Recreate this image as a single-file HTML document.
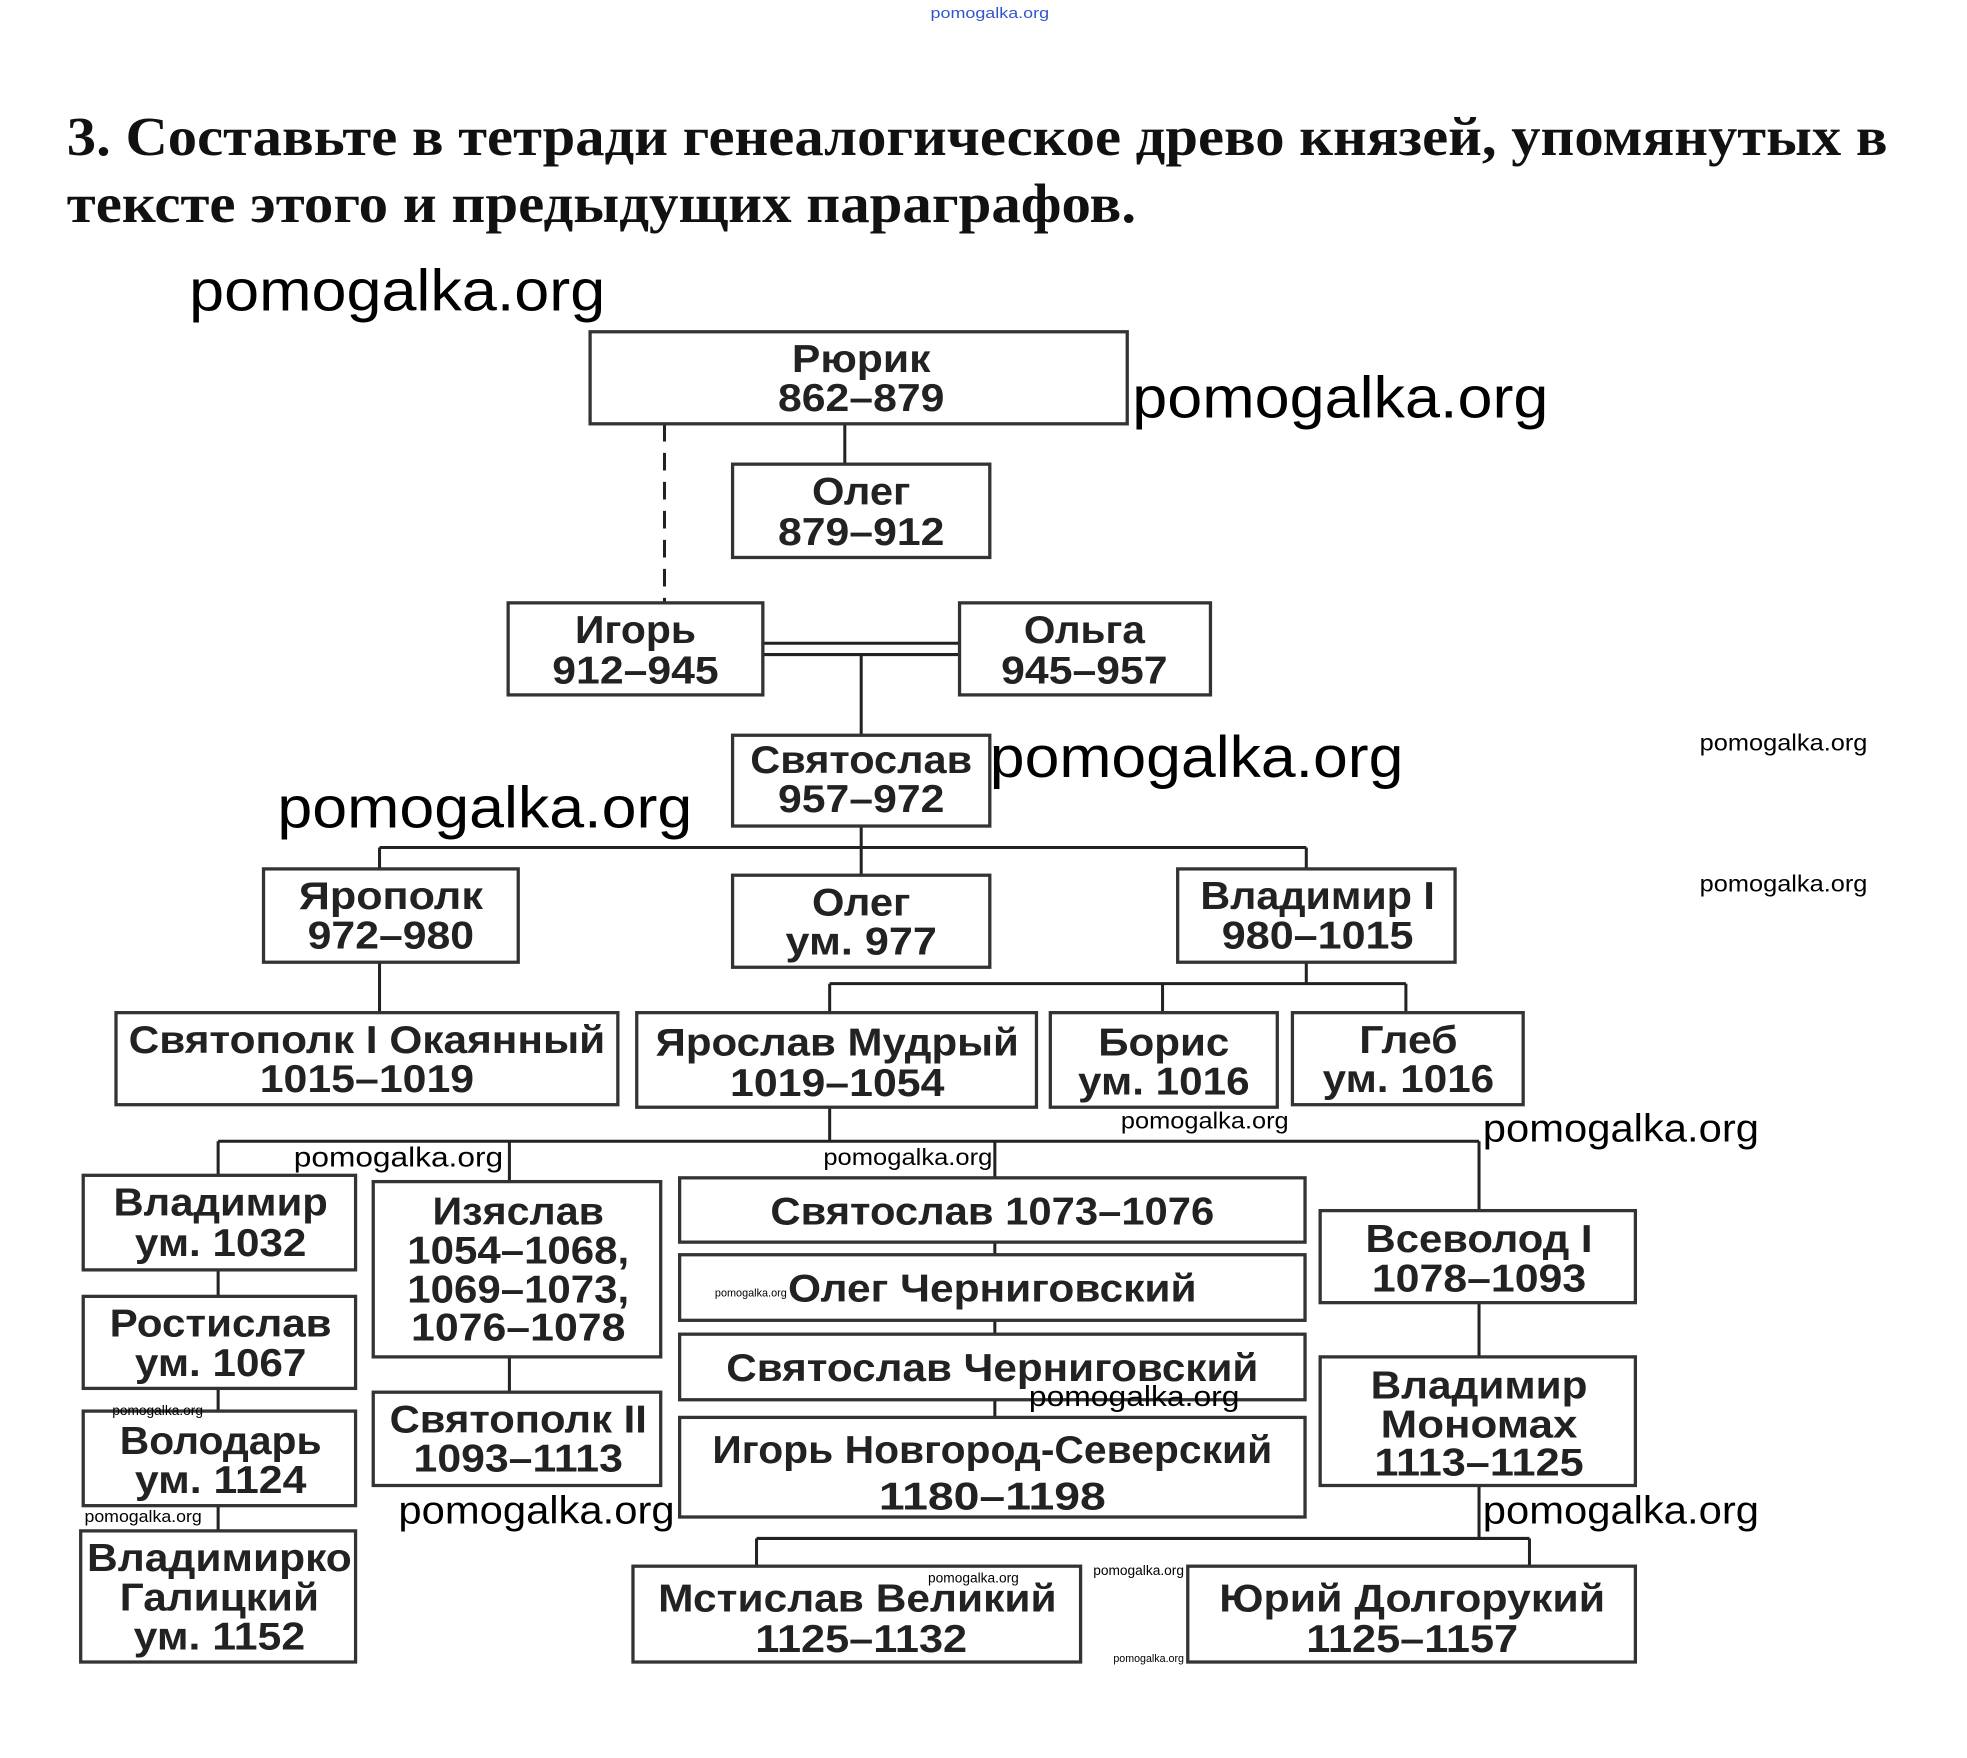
<!DOCTYPE html>
<html><head><meta charset="utf-8"><style>
html,body{margin:0;padding:0;background:#fff;width:1967px;height:1758px;overflow:hidden}
svg{display:block}
.b{fill:#fff;stroke:#333;stroke-width:2.6}
.l{stroke:#222;stroke-width:2.4;fill:none}
.t{font-family:"Liberation Sans",sans-serif;font-weight:bold;font-size:31px;fill:#222;text-anchor:middle}
.w{font-family:"Liberation Sans",sans-serif;fill:#000}
.h{font-family:"Liberation Serif",serif;font-weight:bold;font-size:44px;fill:#111}
</style></head><body>
<svg width="1967" height="1758" viewBox="0 0 1560 1394" xmlns="http://www.w3.org/2000/svg">
<text x="738" y="14" class="w" font-size="12" fill="#3355cc" style="fill:#3355cc" textLength="94" lengthAdjust="spacingAndGlyphs">pomogalka.org</text>
<text x="53" y="123" class="h" textLength="1444" lengthAdjust="spacingAndGlyphs">3. Составьте в тетради генеалогическое древо князей, упомянутых в</text>
<text x="53" y="176" class="h" textLength="848" lengthAdjust="spacingAndGlyphs">тексте этого и предыдущих параграфов.</text>

<!-- connectors -->
<line class="l" x1="670" y1="336" x2="670" y2="368"/>
<line class="l" x1="527" y1="336" x2="527" y2="478" stroke-dasharray="14,9"/>
<line class="l" x1="605" y1="510" x2="761" y2="510"/>
<line class="l" x1="605" y1="519" x2="761" y2="519"/>
<line class="l" x1="683" y1="519" x2="683" y2="583"/>
<line class="l" x1="683" y1="655" x2="683" y2="694"/>
<line class="l" x1="301" y1="672" x2="1036" y2="672"/>
<line class="l" x1="301" y1="672" x2="301" y2="803"/>
<line class="l" x1="1036" y1="672" x2="1036" y2="780"/>
<line class="l" x1="658" y1="780" x2="1115" y2="780"/>
<line class="l" x1="658" y1="780" x2="658" y2="803"/>
<line class="l" x1="922" y1="780" x2="922" y2="803"/>
<line class="l" x1="1115" y1="780" x2="1115" y2="803"/>
<line class="l" x1="658" y1="878" x2="658" y2="905"/>
<line class="l" x1="173" y1="905" x2="1173" y2="905"/>
<line class="l" x1="173" y1="905" x2="173" y2="1214"/>
<line class="l" x1="404" y1="905" x2="404" y2="1104"/>
<line class="l" x1="789" y1="905" x2="789" y2="1124"/>
<line class="l" x1="1173" y1="905" x2="1173" y2="1220"/>
<line class="l" x1="600" y1="1220" x2="1213" y2="1220"/>
<line class="l" x1="600" y1="1220" x2="600" y2="1242"/>
<line class="l" x1="1213" y1="1220" x2="1213" y2="1242"/>

<!-- boxes -->
<rect class="b" x="468" y="263" width="426" height="73"/>
<rect class="b" x="581" y="368" width="204" height="74"/>
<rect class="b" x="403" y="478" width="202" height="73"/>
<rect class="b" x="761" y="478" width="199" height="73"/>
<rect class="b" x="581" y="583" width="204" height="72"/>
<rect class="b" x="209" y="689" width="202" height="74"/>
<rect class="b" x="581" y="694" width="204" height="73"/>
<rect class="b" x="934" y="689" width="220" height="74"/>
<rect class="b" x="92" y="803" width="398" height="73"/>
<rect class="b" x="505" y="803" width="317" height="75"/>
<rect class="b" x="833" y="803" width="180" height="75"/>
<rect class="b" x="1025" y="803" width="183" height="73"/>
<rect class="b" x="66" y="932" width="216" height="75"/>
<rect class="b" x="66" y="1028" width="216" height="73"/>
<rect class="b" x="66" y="1119" width="216" height="75"/>
<rect class="b" x="64" y="1214" width="218" height="104"/>
<rect class="b" x="296" y="937" width="228" height="139"/>
<rect class="b" x="296" y="1104" width="228" height="74"/>
<rect class="b" x="539" y="934" width="496" height="51"/>
<rect class="b" x="539" y="995" width="496" height="52"/>
<rect class="b" x="539" y="1058" width="496" height="52"/>
<rect class="b" x="539" y="1124" width="496" height="79"/>
<rect class="b" x="1047" y="960" width="250" height="73"/>
<rect class="b" x="1047" y="1076" width="250" height="102"/>
<rect class="b" x="502" y="1242" width="355" height="76"/>
<rect class="b" x="942" y="1242" width="355" height="76"/>

<!-- labels -->
<g class="t">
<text x="683" y="295" textLength="110" lengthAdjust="spacingAndGlyphs">Рюрик</text>
<text x="683" y="326" textLength="132" lengthAdjust="spacingAndGlyphs">862–879</text>
<text x="683" y="400" textLength="78" lengthAdjust="spacingAndGlyphs">Олег</text>
<text x="683" y="432" textLength="132" lengthAdjust="spacingAndGlyphs">879–912</text>
<text x="504" y="510" textLength="96" lengthAdjust="spacingAndGlyphs">Игорь</text>
<text x="504" y="542" textLength="132" lengthAdjust="spacingAndGlyphs">912–945</text>
<text x="860" y="510" textLength="96" lengthAdjust="spacingAndGlyphs">Ольга</text>
<text x="860" y="542" textLength="132" lengthAdjust="spacingAndGlyphs">945–957</text>
<text x="683" y="613" textLength="176" lengthAdjust="spacingAndGlyphs">Святослав</text>
<text x="683" y="644" textLength="132" lengthAdjust="spacingAndGlyphs">957–972</text>
<text x="310" y="721" textLength="146" lengthAdjust="spacingAndGlyphs">Ярополк</text>
<text x="310" y="752" textLength="132" lengthAdjust="spacingAndGlyphs">972–980</text>
<text x="683" y="726" textLength="78" lengthAdjust="spacingAndGlyphs">Олег</text>
<text x="683" y="757" textLength="120" lengthAdjust="spacingAndGlyphs">ум. 977</text>
<text x="1045" y="721" textLength="186" lengthAdjust="spacingAndGlyphs">Владимир I</text>
<text x="1045" y="752" textLength="152" lengthAdjust="spacingAndGlyphs">980–1015</text>
<text x="291" y="835" textLength="378" lengthAdjust="spacingAndGlyphs">Святополк I Окаянный</text>
<text x="291" y="866" textLength="170" lengthAdjust="spacingAndGlyphs">1015–1019</text>
<text x="664" y="837" textLength="288" lengthAdjust="spacingAndGlyphs">Ярослав Мудрый</text>
<text x="664" y="869" textLength="170" lengthAdjust="spacingAndGlyphs">1019–1054</text>
<text x="923" y="837" textLength="104" lengthAdjust="spacingAndGlyphs">Борис</text>
<text x="923" y="868" textLength="136" lengthAdjust="spacingAndGlyphs">ум. 1016</text>
<text x="1117" y="835" textLength="78" lengthAdjust="spacingAndGlyphs">Глеб</text>
<text x="1117" y="866" textLength="136" lengthAdjust="spacingAndGlyphs">ум. 1016</text>
<text x="175" y="964" textLength="170" lengthAdjust="spacingAndGlyphs">Владимир</text>
<text x="175" y="996" textLength="136" lengthAdjust="spacingAndGlyphs">ум. 1032</text>
<text x="175" y="1060" textLength="176" lengthAdjust="spacingAndGlyphs">Ростислав</text>
<text x="175" y="1091" textLength="136" lengthAdjust="spacingAndGlyphs">ум. 1067</text>
<text x="175" y="1153" textLength="160" lengthAdjust="spacingAndGlyphs">Володарь</text>
<text x="175" y="1184" textLength="136" lengthAdjust="spacingAndGlyphs">ум. 1124</text>
<text x="174" y="1246" textLength="210" lengthAdjust="spacingAndGlyphs">Владимирко</text>
<text x="174" y="1277" textLength="158" lengthAdjust="spacingAndGlyphs">Галицкий</text>
<text x="174" y="1308" textLength="136" lengthAdjust="spacingAndGlyphs">ум. 1152</text>
<text x="411" y="971" textLength="136" lengthAdjust="spacingAndGlyphs">Изяслав</text>
<text x="411" y="1002" textLength="176" lengthAdjust="spacingAndGlyphs">1054–1068,</text>
<text x="411" y="1033" textLength="176" lengthAdjust="spacingAndGlyphs">1069–1073,</text>
<text x="411" y="1063" textLength="170" lengthAdjust="spacingAndGlyphs">1076–1078</text>
<text x="411" y="1136" textLength="204" lengthAdjust="spacingAndGlyphs">Святополк II</text>
<text x="411" y="1167" textLength="166" lengthAdjust="spacingAndGlyphs">1093–1113</text>
<text x="787" y="971" textLength="352" lengthAdjust="spacingAndGlyphs">Святослав 1073–1076</text>
<text x="787" y="1032" textLength="324" lengthAdjust="spacingAndGlyphs">Олег Черниговский</text>
<text x="787" y="1095" textLength="422" lengthAdjust="spacingAndGlyphs">Святослав Черниговский</text>
<text x="787" y="1160" textLength="444" lengthAdjust="spacingAndGlyphs">Игорь Новгород-Северский</text>
<text x="787" y="1197" textLength="180" lengthAdjust="spacingAndGlyphs">1180–1198</text>
<text x="1173" y="993" textLength="180" lengthAdjust="spacingAndGlyphs">Всеволод I</text>
<text x="1173" y="1024" textLength="170" lengthAdjust="spacingAndGlyphs">1078–1093</text>
<text x="1173" y="1109" textLength="172" lengthAdjust="spacingAndGlyphs">Владимир</text>
<text x="1173" y="1140" textLength="156" lengthAdjust="spacingAndGlyphs">Мономах</text>
<text x="1173" y="1170" textLength="166" lengthAdjust="spacingAndGlyphs">1113–1125</text>
<text x="680" y="1278" textLength="316" lengthAdjust="spacingAndGlyphs">Мстислав Великий</text>
<text x="683" y="1310" textLength="168" lengthAdjust="spacingAndGlyphs">1125–1132</text>
<text x="1120" y="1278" textLength="306" lengthAdjust="spacingAndGlyphs">Юрий Долгорукий</text>
<text x="1120" y="1310" textLength="168" lengthAdjust="spacingAndGlyphs">1125–1157</text>
</g>

<!-- watermarks -->
<g class="w">
<text x="150" y="246" font-size="46" textLength="330" lengthAdjust="spacingAndGlyphs">pomogalka.org</text>
<text x="898" y="331" font-size="46" textLength="330" lengthAdjust="spacingAndGlyphs">pomogalka.org</text>
<text x="785" y="616" font-size="46" textLength="328" lengthAdjust="spacingAndGlyphs">pomogalka.org</text>
<text x="220" y="656" font-size="46" textLength="329" lengthAdjust="spacingAndGlyphs">pomogalka.org</text>
<text x="1348" y="595" font-size="18" textLength="133" lengthAdjust="spacingAndGlyphs">pomogalka.org</text>
<text x="1348" y="707" font-size="18" textLength="133" lengthAdjust="spacingAndGlyphs">pomogalka.org</text>
<text x="889" y="895" font-size="18" textLength="133" lengthAdjust="spacingAndGlyphs">pomogalka.org</text>
<text x="1176" y="905" font-size="31" textLength="219" lengthAdjust="spacingAndGlyphs">pomogalka.org</text>
<text x="233" y="925" font-size="22" textLength="166" lengthAdjust="spacingAndGlyphs">pomogalka.org</text>
<text x="653" y="924" font-size="18" textLength="134" lengthAdjust="spacingAndGlyphs">pomogalka.org</text>
<text x="567" y="1028" font-size="9" textLength="57" lengthAdjust="spacingAndGlyphs">pomogalka.org</text>
<text x="816" y="1115" font-size="23" textLength="167" lengthAdjust="spacingAndGlyphs">pomogalka.org</text>
<text x="89" y="1122" font-size="11" textLength="72" lengthAdjust="spacingAndGlyphs">pomogalka.org</text>
<text x="67" y="1207" font-size="13" textLength="93" lengthAdjust="spacingAndGlyphs">pomogalka.org</text>
<text x="316" y="1208" font-size="31" textLength="219" lengthAdjust="spacingAndGlyphs">pomogalka.org</text>
<text x="1176" y="1208" font-size="31" textLength="219" lengthAdjust="spacingAndGlyphs">pomogalka.org</text>
<text x="736" y="1255" font-size="11" textLength="72" lengthAdjust="spacingAndGlyphs">pomogalka.org</text>
<text x="867" y="1249" font-size="11" textLength="72" lengthAdjust="spacingAndGlyphs">pomogalka.org</text>
<text x="883" y="1318" font-size="9" textLength="56" lengthAdjust="spacingAndGlyphs">pomogalka.org</text>
</g>
</svg>
</body></html>
